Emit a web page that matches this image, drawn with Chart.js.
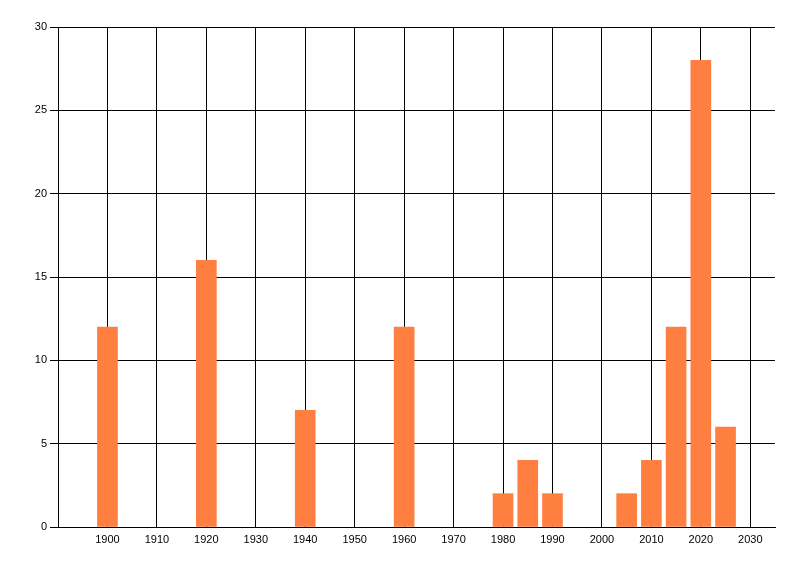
<!DOCTYPE html>
<html>
<head>
<meta charset="utf-8">
<script src="https://cdn.jsdelivr.net/npm/chart.js@4"></script>
<style>
  html, body { margin: 0; padding: 0; background: #fff; }
  #wrap { width: 800px; height: 576px; }
</style>
</head>
<body>
<div id="wrap"><canvas id="yearChart" width="800" height="576"></canvas></div>
<script>
// values
const years = [1900, 1920, 1940, 1960, 1980, 1985, 1990, 2005, 2010, 2015, 2020, 2025];
const counts = [12, 16, 7, 12, 2, 4, 2, 2, 4, 12, 28, 6];
const xTicks = [1900, 1910, 1920, 1930, 1940, 1950, 1960, 1970, 1980, 1990, 2000, 2010, 2020, 2030];
const yTicks = [0, 5, 10, 15, 20, 25, 30];

const ctx = document.getElementById('yearChart');

new Chart(ctx, {
  type: 'bar',
  data: {
    datasets: [{
      data: years.map((y, i) => ({ x: y, y: counts[i] })),
      backgroundColor: '#FF7F40',
      borderWidth: 0,
      barThickness: 20
    }]
  },
  options: {
    responsive: false,
    animation: false,
    layout: { padding: { top: 27, right: 25, left: 0, bottom: 0 } },
    plugins: { legend: { display: false }, tooltip: { enabled: false } },
    scales: {
      x: {
        type: 'linear',
        min: 1890,
        max: 2035,
        offset: false,
        afterBuildTicks: (scale) => { scale.ticks = xTicks.map(v => ({ value: v })); },
        afterFit: (scale) => { scale.height = 49; },
        grid: { color: '#000', lineWidth: 1, drawTicks: false, offset: false },
        border: { color: '#000', width: 1 },
        ticks: {
          color: '#000',
          padding: 6,
          maxRotation: 0,
          autoSkip: false,
          font: { family: 'Liberation Sans', size: 11 },
          callback: (v) => String(v)
        }
      },
      y: {
        min: 0,
        max: 30,
        afterBuildTicks: (scale) => { scale.ticks = yTicks.map(v => ({ value: v })); },
        afterFit: (scale) => { scale.width = 58; },
        grid: { color: '#000', lineWidth: 1, tickLength: 8 },
        border: { color: '#000', width: 1 },
        ticks: {
          color: '#000',
          padding: 3,
          font: { family: 'Liberation Sans', size: 11 }
        }
      }
    }
  }
});
</script>
</body>
</html>
